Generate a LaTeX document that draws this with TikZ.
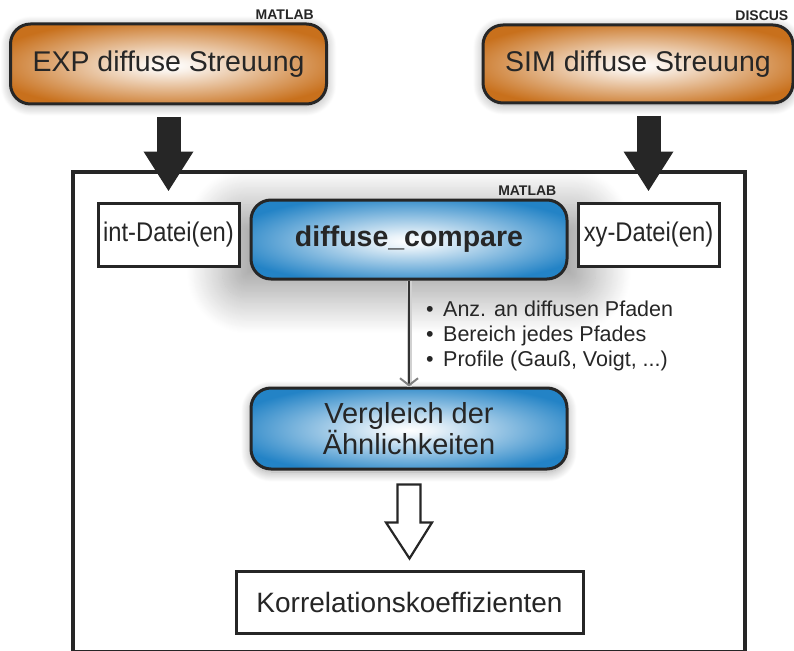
\documentclass[tikz,border=0pt]{standalone}
\usepackage{fontspec}
\setmainfont{Liberation Sans}
\usetikzlibrary{arrows.meta,calc,shadows.blur}

\definecolor{ink}{HTML}{262626}
\definecolor{boxorange}{HTML}{C8701C}
\definecolor{boxblue}{HTML}{2383C6}

% white core fading out into the box colour
\pgfdeclareradialshading{orangeglow}{\pgfpoint{0bp}{-1bp}}{color(0bp)=(white); color(4bp)=(white!90!boxorange); color(29bp)=(boxorange); color(50bp)=(boxorange)}
\pgfdeclareradialshading{blueglow}{\pgfpoint{0bp}{-1bp}}{color(0bp)=(white); color(4bp)=(white!90!boxblue); color(29bp)=(boxblue); color(50bp)=(boxblue)}

\tikzset{
  rbox/.style={draw=ink, line width=3pt, rounded corners=20pt,
    minimum width=316pt, minimum height=80pt, inner sep=0pt,
    text=ink, align=center, font=\fontsize{28.5}{30}\selectfont},
  obox/.style={rbox, shading=orangeglow,
    blur shadow={shadow xshift=0pt, shadow yshift=-2pt, shadow blur radius=10pt,
      shadow blur steps=25, shadow opacity=35}},
  bbox/.style={rbox, shading=blueglow},
  fbox/.style={draw=ink, line width=3pt, fill=white, inner sep=0pt, text=ink},
  tag/.style={font=\bfseries\fontsize{14}{14}\selectfont, text=ink, inner sep=0pt, anchor=base east},
  bigarrow/.style={draw=ink, line width=24pt, -{Triangle[width=47pt,length=40pt]}},
  hollowarrow/.style={draw=ink, line width=2.2pt, fill=white, line join=miter},
  thinarrow/.style={draw=black!80, line width=1.6pt,
    preaction={draw=black!18, line width=5pt, -},
    -{Straight Barb[length=7pt,width=18pt,line width=2pt,color=black!50]}},
}

\begin{document}
\begin{tikzpicture}[x=1pt, y=-1pt]
\useasboundingbox (0,0) rectangle (794,650);

% outer frame of the comparison tool
\draw[draw=ink, line width=3.5pt] (73,172) rectangle (745,651.5);

% data sources
\node[obox, minimum width=316pt, minimum height=80pt] (exp) at (168.5,64) {EXP diffuse Streuung};
\node[obox, minimum width=310pt, minimum height=78pt] (sim) at (638,64) {SIM diffuse Streuung};
\node[tag] (tagexp) at ($(exp.north east)+(-14,-3)$) {MATLAB};
\node[tag] (tagsim) at ($(sim.north east)+(-6,-3)$) {DISCUS};

% main routine with its wide soft glow
\node[bbox, minimum width=316pt, minimum height=79pt,
  font=\bfseries\fontsize{28.5}{30}\selectfont,
  blur shadow={shadow xshift=0pt, shadow yshift=-10pt, shadow blur radius=30pt,
    shadow blur steps=40, shadow opacity=36, shadow scale=1.18}]
  (dc) at (409,239.5) {diffuse\_compare};
\node[tag] (tagdc) at ($(dc.north east)+(-12,-3)$) {MATLAB};

% input files
\node[fbox, minimum width=141pt, minimum height=63pt] (int) at (168.5,234.5)
  {\fontsize{27}{28}\selectfont\scalebox{0.88}[1]{int-Datei(en)}};
\node[fbox, minimum width=141pt, minimum height=63pt] (xy) at (648.5,234.5)
  {\fontsize{27}{28}\selectfont\scalebox{0.88}[1]{xy-Datei(en)}};

% comparison step
\node[bbox, minimum width=316pt, minimum height=81pt, font=\fontsize{29}{30}\selectfont,
  blur shadow={shadow xshift=0pt, shadow yshift=-3pt, shadow blur radius=10pt,
    shadow blur steps=25, shadow opacity=38}]
  (vg) at (409,428.5) {Vergleich der\\Ähnlichkeiten};

% result
\node[fbox, minimum width=347pt, minimum height=62pt, font=\fontsize{28}{30}\selectfont] (ko) at (409.5,602)
  {Korrelationskoeffizienten};

% parameters passed on
\node[anchor=north west, align=left, inner sep=0pt, text=ink,
  font=\fontsize{21.5}{25}\selectfont] (par) at (426,301)
  {\makebox[17pt][l]{•}Anz. an diffusen Pfaden\\
   \makebox[17pt][l]{•}Bereich jedes Pfades\\
   \makebox[17pt][l]{•}Profile (Gauß, Voigt, ...)};

% connectors
\draw[bigarrow] ($(exp.south)+(0,11)$) -- ($(int.north)+(0,-10)$);
\draw[bigarrow] ($(sim.south)+(10.5,11)$) -- ($(xy.north)+(0,-10)$);
\draw[thinarrow] (dc.south) -- (vg.north);

\coordinate (h0) at ($(vg.south)+(0,14)$);
\coordinate (h1) at ($(ko.north)+(0,-11)$);
\draw[hollowarrow] ($(h0)+(-11.5,0)$) -- ($(h0)+(11.5,0)$) -- ($(h0)+(11.5,38)$)
  -- ($(h0)+(23,38)$) -- (h1) -- ($(h0)+(-23,38)$) -- ($(h0)+(-11.5,38)$) -- cycle;
\end{tikzpicture}
\end{document}
